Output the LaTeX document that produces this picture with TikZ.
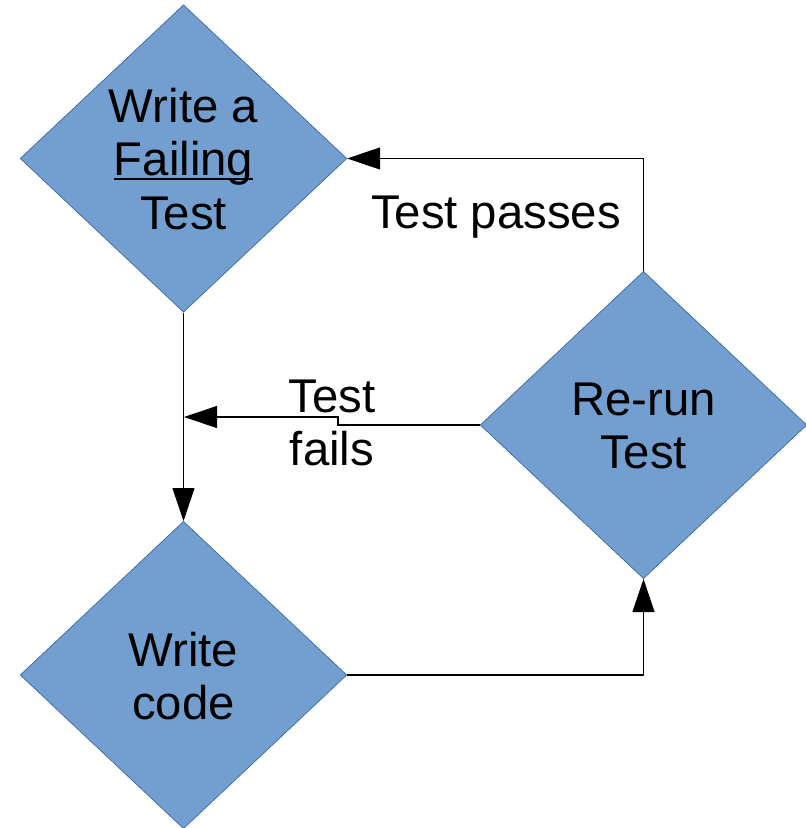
\documentclass[tikz,border=0pt]{standalone}
\usepackage{fontspec}
\setmainfont{Liberation Sans}
\usetikzlibrary{shapes.geometric,arrows.meta}
\definecolor{dfill}{HTML}{729FCF}
\definecolor{dline}{HTML}{3465A4}
\newcommand\myul[1]{\setbox0\hbox{#1}\rlap{\rule[-0.085em]{\wd0}{0.045em}}\box0}
\begin{document}
\begin{tikzpicture}[x=0.75pt,y=-0.75pt,
  dia/.style={diamond,draw=dline,fill=dfill,line width=0.5pt,inner sep=0pt,
    minimum width=245pt,minimum height=230.5pt},
  lbl/.style={align=center,font=\fontsize{35.5}{40}\selectfont,inner sep=0pt},
  conn/.style={draw=black,line width=0.8pt,-{Triangle[length=24.75pt,width=16.5pt]}}]
\useasboundingbox (0,0) rectangle (806,828);
\node[dia] (F) at (183.5,158.5) {};
\node[dia] (C) at (183.5,675) {};
\node[dia] (R) at (643.5,425) {};
\node[lbl] (Ft) at (183.5,159) {Write a\\\myul{Failing}\\Test};
\node[lbl] (Ct) at (183.5,676) {Write\\code};
\node[lbl] (Rt) at (643.5,426) {Re-run\\Test};
\node[lbl] (pass) at (496,217) {Test passes};
\node[lbl] (fail) at (332,423) {Test\\fails};
\coordinate (join) at (184,417);
\draw[conn] (F.south) -- (C.north);
\draw[conn] (C.east) -| (R.south);
\draw[conn] (R.north) |- (F.east);
\draw[conn] (R.west) -- (338,425) -- (338,417) -- (join);
\end{tikzpicture}
\end{document}
